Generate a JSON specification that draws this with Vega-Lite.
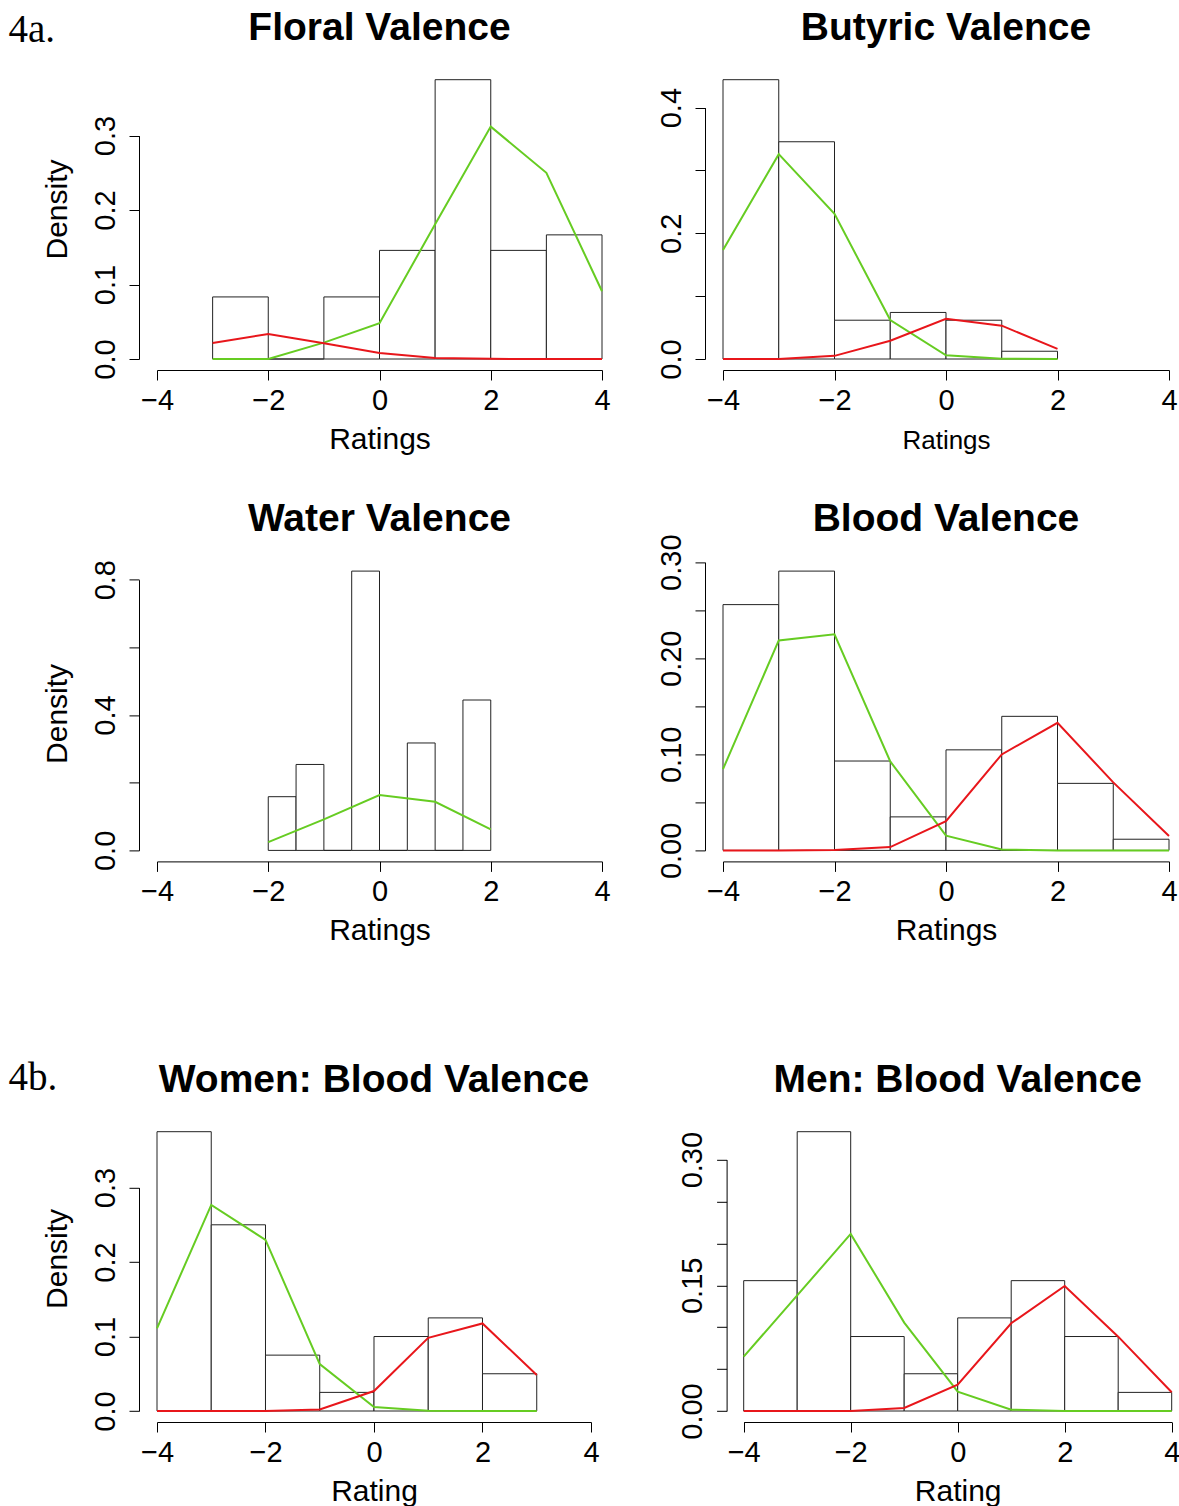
{
  "$schema": "https://vega.github.io/schema/vega-lite/v6.json",
  "background": "white",
  "padding": {"left": 8, "top": 9, "right": 0, "bottom": 0},
  "columns": 2,
  "bounds": "flush",
  "align": {"row": "each", "column": "none"},
  "spacing": {"row": 201.4, "column": 121},
  "config": {
    "view": {"stroke": null},
    "font": "Liberation Sans",
    "axis": {
      "grid": false, "labelFlush": false, "labelOverlap": false, "labelBound": false,
      "domainColor": "#000000", "tickColor": "#000000", "labelColor": "#000000", "titleColor": "#000000",
      "domainWidth": 1, "tickWidth": 1, "tickSize": 10,
      "labelFont": "Liberation Sans", "titleFont": "Liberation Sans",
      "labelFontSize": 29, "titleFontSize": 30, "titleFontWeight": "normal"
    },
    "axisBottom": {"offset": 11, "labelPadding": 6, "labelBaseline": "top", "labelAlign": "center", "titleBaseline": "alphabetic", "titleAlign": "center", "titleY": 78},
    "axisLeft": {"offset": 18, "labelAngle": 270, "labelAlign": "center", "labelBaseline": "alphabetic", "labelPadding": 15, "titleAngle": 270, "titleAlign": "center", "titleBaseline": "alphabetic", "titleX": -73},
    "axisTop": {"offset": 0, "domain": false, "ticks": false, "labels": false, "titleFont": "Liberation Serif", "titleFontSize": 39, "titleFontWeight": "normal", "titleAlign": "left", "titleBaseline": "alphabetic", "titleAngle": 0},
    "title": {"font": "Liberation Sans", "fontSize": 39, "fontWeight": "bold", "color": "#000000", "anchor": "middle", "frame": "group", "baseline": "alphabetic"},
    "rect": {"fill": "white", "stroke": "#222222", "strokeWidth": 1},
    "line": {"strokeWidth": 2}
  },
  "concat": [
    {
      "width": 445, "height": 290,
      "title": {"text": "Floral Valence", "offset": -37.3},
      "encoding": {
        "y": {"field": "density", "type": "quantitative", "scale": {"domain": [0, 0.38937], "nice": false, "zero": false},
          "axis": {"values": [0, 0.1, 0.2, 0.3], "format": ".1f", "domainDash": [223.4, 2000], "title": "Density", "titleY": 140}}
      },
      "layer": [
        {
          "data": {"values": [
            {"bin_start": -3, "bin_end": -2, "density": 0.08333},
            {"bin_start": -2, "bin_end": -1, "density": 0},
            {"bin_start": -1, "bin_end": 0, "density": 0.08333},
            {"bin_start": 0, "bin_end": 1, "density": 0.14583},
            {"bin_start": 1, "bin_end": 2, "density": 0.375},
            {"bin_start": 2, "bin_end": 3, "density": 0.14583},
            {"bin_start": 3, "bin_end": 4, "density": 0.16667}
          ]},
          "mark": {"type": "rect"},
          "encoding": {
            "x": {"field": "bin_start", "type": "quantitative", "scale": {"domain": [-4, 4], "nice": false, "zero": false},
              "axis": {"orient": "bottom", "values": [-4, -2, 0, 2, 4], "format": "d", "title": "Ratings"}},
            "x2": {"field": "bin_end"},
            "y2": {"datum": 0}
          }
        },
        {
          "data": {"values": [
            {"rating": -3, "component": "1", "density": 0},
            {"rating": -2, "component": "1", "density": 0},
            {"rating": -1, "component": "1", "density": 0.022},
            {"rating": 0, "component": "1", "density": 0.048},
            {"rating": 1, "component": "1", "density": 0.181},
            {"rating": 2, "component": "1", "density": 0.312},
            {"rating": 3, "component": "1", "density": 0.25},
            {"rating": 4, "component": "1", "density": 0.091},
            {"rating": -3, "component": "2", "density": 0.0215},
            {"rating": -2, "component": "2", "density": 0.0336},
            {"rating": -1, "component": "2", "density": 0.021},
            {"rating": 0, "component": "2", "density": 0.008},
            {"rating": 1, "component": "2", "density": 0.0013},
            {"rating": 2, "component": "2", "density": 0.0002},
            {"rating": 3, "component": "2", "density": 0},
            {"rating": 4, "component": "2", "density": 0}
          ]},
          "mark": {"type": "line"},
          "encoding": {
            "x": {"field": "rating", "type": "quantitative", "axis": {"orient": "top", "title": "4a.", "titleX": -149, "titleY": -27.3}},
            "color": {"field": "component", "type": "nominal", "scale": {"domain": ["1", "2"], "range": ["#66CC22", "#E8161B"]}, "legend": null}
          }
        }
      ],
      "resolve": {"axis": {"x": "independent"}}
    },
    {
      "width": 446, "height": 290,
      "title": {"text": "Butyric Valence", "offset": 21},
      "encoding": {
        "y": {"field": "density", "type": "quantitative", "scale": {"domain": [0, 0.46147], "nice": false, "zero": false},
          "axis": {"values": [0, 0.1, 0.2, 0.3, 0.4], "labelExpr": "round(datum.value*10) % 2 == 0 ? format(datum.value, '.1f') : ''", "domainDash": [251.4, 2000], "title": null}}
      },
      "layer": [
        {
          "data": {"values": [
            {"bin_start": -4, "bin_end": -3, "density": 0.44444},
            {"bin_start": -3, "bin_end": -2, "density": 0.34568},
            {"bin_start": -2, "bin_end": -1, "density": 0.06173},
            {"bin_start": -1, "bin_end": 0, "density": 0.07407},
            {"bin_start": 0, "bin_end": 1, "density": 0.06173},
            {"bin_start": 1, "bin_end": 2, "density": 0.01235}
          ]},
          "mark": {"type": "rect"},
          "encoding": {
            "x": {"field": "bin_start", "type": "quantitative", "scale": {"domain": [-4, 4], "nice": false, "zero": false},
              "axis": {"orient": "bottom", "values": [-4, -2, 0, 2, 4], "format": "d", "title": "Ratings", "titleFontSize": 26}},
            "x2": {"field": "bin_end"},
            "y2": {"datum": 0}
          }
        },
        {
          "data": {"values": [
            {"rating": -4, "component": "1", "density": 0.1735},
            {"rating": -3, "component": "1", "density": 0.326},
            {"rating": -2, "component": "1", "density": 0.231},
            {"rating": -1, "component": "1", "density": 0.062},
            {"rating": 0, "component": "1", "density": 0.006},
            {"rating": 1, "component": "1", "density": 0.0005},
            {"rating": 2, "component": "1", "density": 0},
            {"rating": -4, "component": "2", "density": 0},
            {"rating": -3, "component": "2", "density": 0},
            {"rating": -2, "component": "2", "density": 0.005},
            {"rating": -1, "component": "2", "density": 0.029},
            {"rating": 0, "component": "2", "density": 0.064},
            {"rating": 1, "component": "2", "density": 0.053},
            {"rating": 2, "component": "2", "density": 0.016}
          ]},
          "mark": {"type": "line"},
          "encoding": {
            "x": {"field": "rating", "type": "quantitative", "axis": null},
            "color": {"field": "component", "type": "nominal", "scale": {"domain": ["1", "2"], "range": ["#66CC22", "#E8161B"]}, "legend": null}
          }
        }
      ],
      "resolve": {"axis": {"x": "independent"}}
    },
    {
      "width": 445, "height": 290,
      "title": {"text": "Water Valence", "offset": 20.8},
      "encoding": {
        "y": {"field": "density", "type": "quantitative", "scale": {"domain": [0, 0.85702], "nice": false, "zero": false},
          "axis": {"values": [0, 0.2, 0.4, 0.6, 0.8], "labelExpr": "round(datum.value*10) % 4 == 0 ? format(datum.value, '.1f') : ''", "domainDash": [270.7, 2000], "title": "Density", "titleY": 153}}
      },
      "layer": [
        {
          "data": {"values": [
            {"bin_start": -2, "bin_end": -1.5, "density": 0.15873},
            {"bin_start": -1.5, "bin_end": -1, "density": 0.25397},
            {"bin_start": -1, "bin_end": -0.5, "density": 0},
            {"bin_start": -0.5, "bin_end": 0, "density": 0.8254},
            {"bin_start": 0, "bin_end": 0.5, "density": 0},
            {"bin_start": 0.5, "bin_end": 1, "density": 0.31746},
            {"bin_start": 1, "bin_end": 1.5, "density": 0},
            {"bin_start": 1.5, "bin_end": 2, "density": 0.44444}
          ]},
          "mark": {"type": "rect"},
          "encoding": {
            "x": {"field": "bin_start", "type": "quantitative", "scale": {"domain": [-4, 4], "nice": false, "zero": false},
              "axis": {"orient": "bottom", "values": [-4, -2, 0, 2, 4], "format": "d", "title": "Ratings"}},
            "x2": {"field": "bin_end"},
            "y2": {"datum": 0}
          }
        },
        {
          "data": {"values": [
            {"rating": -2, "component": "1", "density": 0.0246},
            {"rating": -1, "component": "1", "density": 0.0916},
            {"rating": 0, "component": "1", "density": 0.1635},
            {"rating": 1, "component": "1", "density": 0.1438},
            {"rating": 2, "component": "1", "density": 0.062}
          ]},
          "mark": {"type": "line"},
          "encoding": {
            "x": {"field": "rating", "type": "quantitative", "axis": null},
            "color": {"field": "component", "type": "nominal", "scale": {"domain": ["1", "2"], "range": ["#66CC22", "#E8161B"]}, "legend": null}
          }
        }
      ],
      "resolve": {"axis": {"x": "independent"}}
    },
    {
      "width": 446, "height": 290,
      "title": {"text": "Blood Valence", "offset": -4.8},
      "encoding": {
        "y": {"field": "density", "type": "quantitative", "scale": {"domain": [0, 0.30184], "nice": false, "zero": false},
          "axis": {"values": [0, 0.05, 0.1, 0.15, 0.2, 0.25, 0.3], "labelExpr": "round(datum.value*100) % 10 == 0 ? format(datum.value, '.2f') : ''", "domainDash": [288.2, 2000], "title": null}}
      },
      "layer": [
        {
          "data": {"values": [
            {"bin_start": -4, "bin_end": -3, "density": 0.25581},
            {"bin_start": -3, "bin_end": -2, "density": 0.2907},
            {"bin_start": -2, "bin_end": -1, "density": 0.09302},
            {"bin_start": -1, "bin_end": 0, "density": 0.03488},
            {"bin_start": 0, "bin_end": 1, "density": 0.10465},
            {"bin_start": 1, "bin_end": 2, "density": 0.13953},
            {"bin_start": 2, "bin_end": 3, "density": 0.06977},
            {"bin_start": 3, "bin_end": 4, "density": 0.01163}
          ]},
          "mark": {"type": "rect"},
          "encoding": {
            "x": {"field": "bin_start", "type": "quantitative", "scale": {"domain": [-4, 4], "nice": false, "zero": false},
              "axis": {"orient": "bottom", "values": [-4, -2, 0, 2, 4], "format": "d", "title": "Ratings"}},
            "x2": {"field": "bin_end"},
            "y2": {"datum": 0}
          }
        },
        {
          "data": {"values": [
            {"rating": -4, "component": "1", "density": 0.0846},
            {"rating": -3, "component": "1", "density": 0.2185},
            {"rating": -2, "component": "1", "density": 0.225},
            {"rating": -1, "component": "1", "density": 0.0926},
            {"rating": 0, "component": "1", "density": 0.0153},
            {"rating": 1, "component": "1", "density": 0.001},
            {"rating": 2, "component": "1", "density": 0},
            {"rating": 3, "component": "1", "density": 0},
            {"rating": 4, "component": "1", "density": 0},
            {"rating": -4, "component": "2", "density": 0},
            {"rating": -3, "component": "2", "density": 0},
            {"rating": -2, "component": "2", "density": 0.0003},
            {"rating": -1, "component": "2", "density": 0.0035},
            {"rating": 0, "component": "2", "density": 0.0305},
            {"rating": 1, "component": "2", "density": 0.0999},
            {"rating": 2, "component": "2", "density": 0.1328},
            {"rating": 3, "component": "2", "density": 0.0708},
            {"rating": 4, "component": "2", "density": 0.0149}
          ]},
          "mark": {"type": "line"},
          "encoding": {
            "x": {"field": "rating", "type": "quantitative", "axis": null},
            "color": {"field": "component", "type": "nominal", "scale": {"domain": ["1", "2"], "range": ["#66CC22", "#E8161B"]}, "legend": null}
          }
        }
      ],
      "resolve": {"axis": {"x": "independent"}}
    },
    {
      "width": 445, "height": 359.2,
      "title": {"text": "Women: Blood Valence", "offset": -48.6, "dx": -5.5},
      "encoding": {
        "y": {"field": "density", "type": "quantitative", "scale": {"domain": [0, 0.48228], "nice": false, "zero": false},
          "axis": {"values": [0, 0.1, 0.2, 0.3], "format": ".1f", "domainDash": [223.4, 2000], "title": "Density", "titleY": 206.6}}
      },
      "layer": [
        {
          "data": {"values": [
            {"bin_start": -4, "bin_end": -3, "density": 0.375},
            {"bin_start": -3, "bin_end": -2, "density": 0.25},
            {"bin_start": -2, "bin_end": -1, "density": 0.075},
            {"bin_start": -1, "bin_end": 0, "density": 0.025},
            {"bin_start": 0, "bin_end": 1, "density": 0.1},
            {"bin_start": 1, "bin_end": 2, "density": 0.125},
            {"bin_start": 2, "bin_end": 3, "density": 0.05}
          ]},
          "mark": {"type": "rect"},
          "encoding": {
            "x": {"field": "bin_start", "type": "quantitative", "scale": {"domain": [-4, 4.2028], "nice": false, "zero": false},
              "axis": {"orient": "bottom", "values": [-4, -2, 0, 2, 4], "format": "d", "title": "Rating", "titleX": 217, "domainDash": [434, 2000]}},
            "x2": {"field": "bin_end"},
            "y2": {"datum": 0}
          }
        },
        {
          "data": {"values": [
            {"rating": -4, "component": "1", "density": 0.111},
            {"rating": -3, "component": "1", "density": 0.2767},
            {"rating": -2, "component": "1", "density": 0.2298},
            {"rating": -1, "component": "1", "density": 0.063},
            {"rating": 0, "component": "1", "density": 0.0054},
            {"rating": 1, "component": "1", "density": 0.0004},
            {"rating": 2, "component": "1", "density": 0},
            {"rating": 3, "component": "1", "density": 0},
            {"rating": -4, "component": "2", "density": 0},
            {"rating": -3, "component": "2", "density": 0},
            {"rating": -2, "component": "2", "density": 0},
            {"rating": -1, "component": "2", "density": 0.002},
            {"rating": 0, "component": "2", "density": 0.0268},
            {"rating": 1, "component": "2", "density": 0.0983},
            {"rating": 2, "component": "2", "density": 0.1176},
            {"rating": 3, "component": "2", "density": 0.0483}
          ]},
          "mark": {"type": "line"},
          "encoding": {
            "x": {"field": "rating", "type": "quantitative", "axis": {"orient": "top", "title": "4b.", "titleX": -149, "titleY": 37.9}},
            "color": {"field": "component", "type": "nominal", "scale": {"domain": ["1", "2"], "range": ["#66CC22", "#E8161B"]}, "legend": null}
          }
        }
      ],
      "resolve": {"axis": {"x": "independent"}}
    },
    {
      "width": 448.7, "height": 359.2,
      "title": {"text": "Men: Blood Valence", "offset": -48.6, "dx": 10.35},
      "encoding": {
        "y": {"field": "density", "type": "quantitative", "scale": {"domain": [0, 0.42869], "nice": false, "zero": false},
          "axis": {"values": [0, 0.05, 0.1, 0.15, 0.2, 0.25, 0.3], "labelExpr": "round(datum.value*100) % 15 == 0 ? format(datum.value, '.2f') : ''", "domainDash": [251.4, 2000], "title": null, "offset": -3.6}}
      },
      "layer": [
        {
          "data": {"values": [
            {"bin_start": -4, "bin_end": -3, "density": 0.15556},
            {"bin_start": -3, "bin_end": -2, "density": 0.33333},
            {"bin_start": -2, "bin_end": -1, "density": 0.08889},
            {"bin_start": -1, "bin_end": 0, "density": 0.04444},
            {"bin_start": 0, "bin_end": 1, "density": 0.11111},
            {"bin_start": 1, "bin_end": 2, "density": 0.15556},
            {"bin_start": 2, "bin_end": 3, "density": 0.08889},
            {"bin_start": 3, "bin_end": 4, "density": 0.02222}
          ]},
          "mark": {"type": "rect"},
          "encoding": {
            "x": {"field": "bin_start", "type": "quantitative", "scale": {"domain": [-4.3869, 4], "nice": false, "zero": false},
              "axis": {"orient": "bottom", "values": [-4, -2, 0, 2, 4], "format": "d", "title": "Rating", "titleX": 234.7, "domainDash": [0, 20.7, 428, 2000]}},
            "x2": {"field": "bin_end"},
            "y2": {"datum": 0}
          }
        },
        {
          "data": {"values": [
            {"rating": -4, "component": "1", "density": 0.0649},
            {"rating": -3, "component": "1", "density": 0.138},
            {"rating": -2, "component": "1", "density": 0.2113},
            {"rating": -1, "component": "1", "density": 0.1055},
            {"rating": 0, "component": "1", "density": 0.0231},
            {"rating": 1, "component": "1", "density": 0.0016},
            {"rating": 2, "component": "1", "density": 0},
            {"rating": 3, "component": "1", "density": 0},
            {"rating": 4, "component": "1", "density": 0},
            {"rating": -4, "component": "2", "density": 0},
            {"rating": -3, "component": "2", "density": 0},
            {"rating": -2, "component": "2", "density": 0},
            {"rating": -1, "component": "2", "density": 0.0036},
            {"rating": 0, "component": "2", "density": 0.0314},
            {"rating": 1, "component": "2", "density": 0.1047},
            {"rating": 2, "component": "2", "density": 0.1492},
            {"rating": 3, "component": "2", "density": 0.0887},
            {"rating": 4, "component": "2", "density": 0.0223}
          ]},
          "mark": {"type": "line"},
          "encoding": {
            "x": {"field": "rating", "type": "quantitative", "axis": null},
            "color": {"field": "component", "type": "nominal", "scale": {"domain": ["1", "2"], "range": ["#66CC22", "#E8161B"]}, "legend": null}
          }
        }
      ],
      "resolve": {"axis": {"x": "independent"}}
    }
  ]
}
